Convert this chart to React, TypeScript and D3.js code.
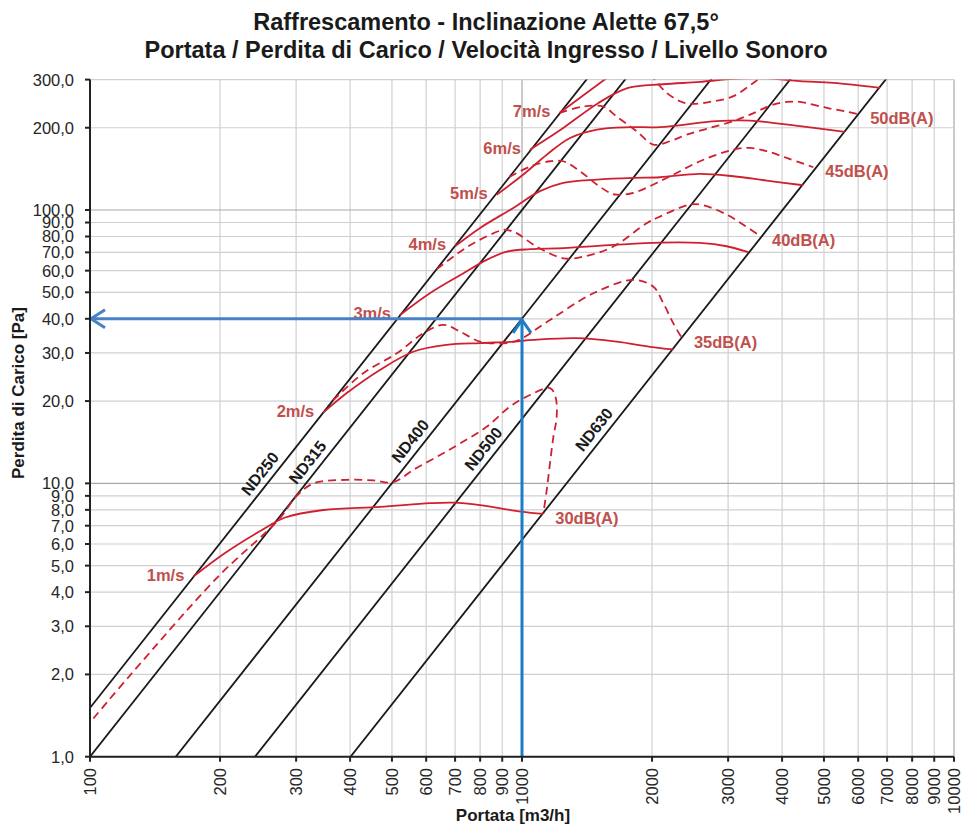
import React from "react";
import * as d3 from "d3";

const W = 962;
const H = 824;
const PLOT = { left: 90, right: 954, top: 79.6, bottom: 756.7 };

const titleLines = [
  "Raffrescamento - Inclinazione Alette 67,5°",
  "Portata / Perdita di Carico / Velocità Ingresso / Livello Sonoro",
];
const xAxisTitle = "Portata [m3/h]";
const yAxisTitle = "Perdita di Carico [Pa]";

const xTicks = [100, 200, 300, 400, 500, 600, 700, 800, 900, 1000, 2000, 3000, 4000, 5000, 6000, 7000, 8000, 9000, 10000];
const yTicks = [1, 2, 3, 4, 5, 6, 7, 8, 9, 10, 20, 30, 40, 50, 60, 70, 80, 90, 100, 200, 300];
const xMajor = [100, 1000, 10000];
const yMajor = [1, 10, 100];

// duct lines: P = (Q / flowAt1Pa)^2
const ductNames = ["ND250", "ND315", "ND400", "ND500", "ND630"];
const ductFlowAt1Pa = [81.4, 100, 158, 241, 401];
const ductLabelFlow = [260, 335, 579, 855, 1542];

// solid curves (start on ND250 at velocity label, end on ND630)
const solid1: [number, number][] = [[173.5, 4.56], [205, 5.55], [250, 6.75], [283, 7.5], [347, 7.99], [469, 8.2], [612, 8.46], [693, 8.5], [800, 8.33], [995, 7.88], [1120, 7.73]];
const solid2: [number, number][] = [[346.7, 18.15], [393, 21.4], [469, 26.0], [560, 30.3], [669, 32.1], [800, 32.6], [955, 33.0], [1062, 33.5], [1338, 34.0], [1657, 33.0], [1979, 31.6], [2240, 30.9]];
const solid3: [number, number][] = [[522, 41.3], [612, 49.6], [732, 58.7], [828, 65.7], [922, 70.4], [1043, 71.9], [1246, 72.5], [1627, 74.5], [2086, 76.0], [2582, 75.8], [2977, 73.7], [3341, 70.1]];
const solid4: [number, number][] = [[700, 73.7], [800, 86.0], [955, 101.8], [1100, 117.2], [1246, 125.7], [1492, 129.2], [1810, 131.1], [2086, 131.8], [2582, 135.6], [3085, 132.9], [3686, 128.1], [4479, 123.2]];
const solid5: [number, number][] = [[874, 113.8], [1007, 134.8], [1141, 159.4], [1292, 183.5], [1492, 197], [1778, 201], [2086, 201], [2822, 211.3], [3372, 212.4], [4400, 202.6], [5594, 193.1]];
const solid6: [number, number][] = [[1043, 166.3], [1246, 199.7], [1500, 246], [1760, 279.7], [2120, 288.5], [2582, 294.2], [3085, 302], [3700, 303], [4400, 296], [5256, 291.7], [6743, 279.7]];
const solid7: [number, number][] = [[1221, 226.6], [1571, 304], [1700, 333]];

// dashed curves
const dashed1: [number, number][] = [[101.8, 1.38], [125, 2.02], [198, 4.56], [273, 7.35], [301, 9.0], [329, 10.0], [393, 10.3], [453, 10.25], [504, 10.1], [560, 11.2], [635, 12.5], [719, 14.0], [828, 16.1], [938, 19.1], [1040, 21.0], [1161, 22.3], [1195, 20.8], [1203, 17.5], [1182, 14.8], [1161, 11.85], [1141, 9.46], [1120, 7.73]];
const dashed2: [number, number][] = [[365, 20.1], [429, 25.3], [513, 29.9], [591, 35.4], [657, 38.0], [719, 35.9], [800, 33.0], [922, 32.6], [984, 33.5], [1161, 39.6], [1463, 49.6], [1810, 55.5], [2014, 52.4], [2124, 45.6], [2240, 38.5], [2345, 34.0]];
const dashed3: [number, number][] = [[635, 60.8], [693, 67.5], [772, 75.6], [905, 84.6], [938, 84.1], [972, 82.3], [1081, 73.5], [1246, 66.6], [1387, 67.5], [1627, 73.5], [1944, 89.5], [2086, 94.6], [2448, 104.7], [2629, 104.1], [2977, 96.2], [3253, 88.4], [3556, 80.4]];
const dashed4: [number, number][] = [[935, 132], [1043, 144.1], [1161, 150.8], [1246, 150.8], [1362, 138.7], [1492, 123.8], [1599, 115.5], [1656, 113.8], [1810, 115.5], [2162, 131.0], [2582, 150.8], [3085, 166.3], [3372, 168.7], [3686, 164.1], [4099, 155.1], [4725, 143.4]];
const dashed5: [number, number][] = [[1221, 226.6], [1385, 239], [1542, 239], [1657, 219.6], [1846, 193.6], [2014, 173.5], [2200, 178.5], [2406, 188.7], [2724, 199.7], [3085, 211.3], [3372, 223.4], [3816, 243], [4099, 248.6], [4400, 248.6], [5073, 236.4], [5644, 229], [6000, 224]];
const dashed6: [number, number][] = [[1900, 345], [2014, 304], [2162, 268.3], [2321, 250], [2448, 244.5], [2724, 248.6], [3085, 260.9], [3430, 291.7], [3556, 304], [3800, 340]];

const solidCurves = [solid1, solid2, solid3, solid4, solid5, solid6, solid7];
const dashedCurves = [dashed1, dashed2, dashed3, dashed4, dashed5, dashed6];
const velocityLabels = ["1m/s", "2m/s", "3m/s", "4m/s", "5m/s", "6m/s", "7m/s"];
const soundLabels = ["30dB(A)", "35dB(A)", "40dB(A)", "45dB(A)", "50dB(A)"];

const selectedFlow = 1000;
const selectedPressure = 40;

const FONT = "Arial, 'Liberation Sans', Helvetica, sans-serif";
const RED = "#cf2030";
const LABEL_RED = "#c0504d";

export default function App() {
  const x = d3.scaleLog().domain([100, 10000]).range([PLOT.left, PLOT.right]);
  const y = d3.scaleLog().domain([1, 300]).range([PLOT.bottom, PLOT.top]);
  const line = d3
    .line<[number, number]>()
    .x((d) => x(d[0]))
    .y((d) => y(d[1]))
    .curve(d3.curveCatmullRom.alpha(0.5));
  const straight = d3
    .line<[number, number]>()
    .x((d) => x(d[0]))
    .y((d) => y(d[1]));

  // slope angle of P ~ Q^2 lines in pixel space (negative = rising)
  const dx = x(1000) - x(100);
  const dy = y(100) - y(1);
  const ang = (Math.atan2(dy, dx) * 180) / Math.PI;
  const rad = (ang * Math.PI) / 180;
  const perp = [Math.sin(rad), -Math.cos(rad)]; // up-left normal

  const fmtY = (v: number) => v.toFixed(1).replace(".", ",");
  const bx = x(selectedFlow);
  const by = y(selectedPressure);
  const blueV = "#1c7cc4";
  const blueH = "#4682c4";

  return (
    <svg
      width={W}
      height={H}
      style={{ position: "absolute", left: 0, top: 0, background: "#fff" }}
      fontFamily={FONT}
    >
      <defs>
        <clipPath id="plotClip">
          <rect x={PLOT.left} y={PLOT.top} width={PLOT.right - PLOT.left} height={PLOT.bottom - PLOT.top} />
        </clipPath>
      </defs>
      <rect x={0} y={0} width={W} height={H} fill="#fff" />

      {/* title */}
      {titleLines.map((t, i) => (
        <text key={t} x={486} y={29.5 + i * 28} textAnchor="middle" fontSize={23.5} fontWeight="bold" fill="#1a1a1a">
          {t}
        </text>
      ))}

      {/* grid */}
      {xTicks.map((v) => (
        <line
          key={"gx" + v}
          x1={x(v)}
          x2={x(v)}
          y1={PLOT.top}
          y2={PLOT.bottom}
          stroke={xMajor.includes(v) ? "#a8a8a8" : "#d0d0d0"}
          strokeWidth={1.2}
        />
      ))}
      {yTicks.map((v) => (
        <line
          key={"gy" + v}
          x1={PLOT.left}
          x2={PLOT.right}
          y1={y(v)}
          y2={y(v)}
          stroke={yMajor.includes(v) ? "#a8a8a8" : "#d0d0d0"}
          strokeWidth={1.2}
        />
      ))}

      <g clipPath="url(#plotClip)">
        {/* duct lines */}
        {ductFlowAt1Pa.map((f, i) => (
          <path
            key={ductNames[i]}
            d={straight([
              [f * Math.sqrt(0.5), 0.5],
              [f * 20, 400],
            ]) as string}
            stroke="#1a1a1a"
            strokeWidth={1.8}
            fill="none"
          />
        ))}
        {/* red curves */}
        {solidCurves.map((c, i) => (
          <path key={"s" + i} d={line(c) as string} stroke={RED} strokeWidth={1.8} fill="none" />
        ))}
        {dashedCurves.map((c, i) => (
          <path
            key={"d" + i}
            d={line(c) as string}
            stroke={RED}
            strokeWidth={1.8}
            strokeDasharray="8,5"
            fill="none"
          />
        ))}
      </g>

      {/* duct labels */}
      {ductNames.map((n, i) => {
        const q = ductLabelFlow[i];
        const p = Math.pow(q / ductFlowAt1Pa[i], 2);
        const cx = x(q) + perp[0] * 12;
        const cy = y(p) + perp[1] * 12;
        return (
          <text
            key={"lbl" + n}
            transform={`translate(${cx},${cy}) rotate(${ang})`}
            textAnchor="middle"
            dy="0.36em"
            fontSize={16}
            fontWeight="bold"
            fill="#1a1a1a"
          >
            {n}
          </text>
        );
      })}

      {/* velocity labels */}
      {velocityLabels.map((t, i) => {
        const s = solidCurves[i][0];
        return (
          <text key={t} x={x(s[0]) - 9} y={y(s[1]) + 4} textAnchor="end" fontSize={16.5} fontWeight="bold" fill={LABEL_RED}>
            {t}
          </text>
        );
      })}
      {/* sound labels */}
      {soundLabels.map((t, i) => {
        const c = dashedCurves[i];
        const e = c[c.length - 1];
        return (
          <text key={t} x={x(e[0]) + 12} y={y(e[1]) + 10} textAnchor="start" fontSize={16.5} fontWeight="bold" fill={LABEL_RED}>
            {t}
          </text>
        );
      })}

      {/* blue reading arrows */}
      <line x1={bx} x2={PLOT.left + 1} y1={by} y2={by} stroke={blueH} strokeWidth={3} />
      <path
        d={`M${PLOT.left + 15},${by - 9}L${PLOT.left + 1},${by}L${PLOT.left + 15},${by + 9}`}
        stroke={blueH}
        strokeWidth={3}
        fill="none"
      />
      <line x1={bx} x2={bx} y1={PLOT.bottom} y2={by + 1} stroke={blueV} strokeWidth={3} />
      <path
        d={`M${bx - 9},${by + 14}L${bx},${by + 1}L${bx + 9},${by + 14}`}
        stroke={blueV}
        strokeWidth={3}
        fill="none"
      />

      {/* axes */}
      <line x1={PLOT.left} x2={PLOT.left} y1={PLOT.top} y2={PLOT.bottom} stroke="#222" strokeWidth={2} />
      <line x1={PLOT.left} x2={PLOT.right} y1={PLOT.bottom} y2={PLOT.bottom} stroke="#222" strokeWidth={2} />
      {yTicks.map((v) => (
        <g key={"ty" + v}>
          <line x1={PLOT.left - 5} x2={PLOT.left} y1={y(v)} y2={y(v)} stroke="#222" strokeWidth={2} />
          <text x={74} y={y(v)} dy="0.36em" textAnchor="end" fontSize={16.5} fill="#262626">
            {fmtY(v)}
          </text>
        </g>
      ))}
      {xTicks.map((v) => (
        <g key={"tx" + v}>
          <line x1={x(v)} x2={x(v)} y1={PLOT.bottom} y2={PLOT.bottom + 5} stroke="#222" strokeWidth={2} />
          <text
            transform={`translate(${x(v)},768) rotate(-90)`}
            dy="0.36em"
            textAnchor="end"
            fontSize={16.5}
            fill="#262626"
          >
            {String(v)}
          </text>
        </g>
      ))}

      {/* axis titles */}
      <text x={513} y={821} textAnchor="middle" fontSize={17} fontWeight="bold" fill="#1a1a1a">
        {xAxisTitle}
      </text>
      <text transform="translate(24,393) rotate(-90)" textAnchor="middle" fontSize={17} fontWeight="bold" fill="#1a1a1a">
        {yAxisTitle}
      </text>
    </svg>
  );
}
